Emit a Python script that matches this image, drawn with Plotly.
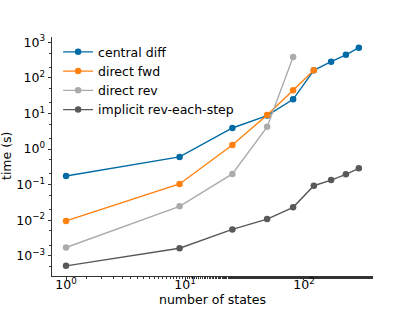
import plotly.graph_objects as go

states = [1, 9, 25, 49, 81, 121, 169, 225, 289]
central_diff = [0.174, 0.60, 3.9, 8.7, 25, 163, 285, 447, 705]
direct_fwd = [0.0095, 0.104, 1.3, 9.0, 45, 163]
direct_rev = [0.0017, 0.0245, 0.20, 4.2, 386]
implicit_rev = [0.00052, 0.00162, 0.0055, 0.0107, 0.023, 0.093, 0.134, 0.194, 0.287]

series = [
    ("central diff", central_diff, "#006BA4"),
    ("direct fwd", direct_fwd, "#FF800E"),
    ("direct rev", direct_rev, "#ABABAB"),
    ("implicit rev-each-step", implicit_rev, "#595959"),
]

x_tickvals = [1, 10, 100]
x_ticktext = ["10<sup>0</sup>", "10<sup>1</sup>", "10<sup>2</sup>"]
y_exps = [-3, -2, -1, 0, 1, 2, 3]
y_tickvals = [10.0 ** e for e in y_exps]
y_ticktext = ["10<sup>%s</sup>" % (str(e).replace("-", "\u2212")) for e in y_exps]

fig = go.Figure()
for name, vals, color in series:
    fig.add_trace(go.Scatter(
        x=states[:len(vals)], y=vals, name=name, mode="lines+markers",
        line=dict(color=color, width=1.4),
        marker=dict(color=color, size=6.5),
    ))

font = "DejaVu Sans, sans-serif"
fs = 12.5
axis_common = dict(
    type="log", showgrid=False, zeroline=False, showline=True,
    linecolor="#333333", linewidth=0.8, ticks="outside", ticklen=3.5,
    tickwidth=0.8, tickcolor="#333333", mirror=False,
    tickfont=dict(family=font, size=fs, color="black"),
    minor=dict(ticks="outside", ticklen=2, tickwidth=0.6, tickcolor="#333333", showgrid=False),
)

fig.update_layout(
    width=415, height=311,
    margin=dict(l=52, r=42, t=37, b=35, autoexpand=False),
    paper_bgcolor="white", plot_bgcolor="white",
    font=dict(family=font, size=fs, color="black"),
    showlegend=True,
    legend=dict(x=0.019, y=0.999, xanchor="left", yanchor="top",
                bgcolor="rgba(255,255,255,0)", borderwidth=0,
                font=dict(family=font, size=fs), tracegroupgap=0),
    xaxis=dict(axis_common, range=[-0.118, 2.58], tickvals=x_tickvals, ticktext=x_ticktext,
               ticklabelstandoff=-6),
    yaxis=dict(axis_common, range=[-3.57, 3.15], tickvals=y_tickvals, ticktext=y_ticktext),
    annotations=[
        dict(text="number of states", xref="paper", yref="paper", x=0.5, y=-0.097,
             xanchor="center", yanchor="middle", showarrow=False,
             font=dict(family=font, size=fs, color="black")),
        dict(text="time (s)", xref="paper", yref="paper", x=-0.1417, y=0.5,
             xanchor="center", yanchor="middle", showarrow=False, textangle=-90,
             font=dict(family=font, size=fs, color="black")),
    ],
)

fig.write_html("out.html", config={"displayModeBar": False},
               post_script="document.body.style.margin='0';")
